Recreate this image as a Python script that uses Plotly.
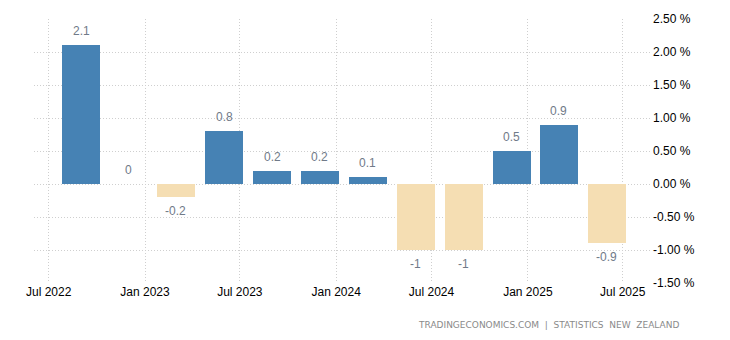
import plotly.graph_objects as go
import pandas as pd

dates = ["2022-09-01", "2022-12-01", "2023-03-01", "2023-06-01", "2023-09-01", "2023-12-01",
         "2024-03-01", "2024-06-01", "2024-09-01", "2024-12-01", "2025-03-01", "2025-06-01"]
values = [2.1, 0, -0.2, 0.8, 0.2, 0.2, 0.1, -1, -1, 0.5, 0.9, -0.9]
labels = ["2.1", "0", "-0.2", "0.8", "0.2", "0.2", "0.1", "-1", "-1", "0.5", "0.9", "-0.9"]
yticks = [2.5, 2.0, 1.5, 1.0, 0.5, 0.0, -0.5, -1.0, -1.5]
ytick_text = ["2.50 %", "2.00 %", "1.50 %", "1.00 %", "0.50 %", "0.00 %", "-0.50 %", "-1.00 %", "-1.50 %"]
xticks = ["2022-07-01", "2023-01-01", "2023-07-01", "2024-01-01", "2024-07-01", "2025-01-01", "2025-07-01"]

colors = ["#4682B4" if v >= 0 else "#F5DEB3" for v in values]

base = pd.Timestamp("2022-07-01")
x0 = base - pd.Timedelta(days=28)
x1 = base + pd.Timedelta(days=1152)

fig = go.Figure()
fig.add_trace(go.Bar(
    x=dates, y=values, marker=dict(color=colors, line=dict(width=0)),
    width=72.6 * 86400000,
    hoverinfo="skip",
))

annotations = []
for d, v, t in zip(dates, values, labels):
    pos = v >= 0
    annotations.append(dict(
        x=d, y=v, xref="x", yref="y", text=t, showarrow=False,
        yanchor="bottom" if pos else "top", yshift=5 if pos else -5,
        font=dict(color="#707a88", size=12, family="Liberation Sans, Arial, sans-serif")))

annotations.append(dict(
    text="TRADINGECONOMICS.COM  |  STATISTICS  NEW  ZEALAND",
    xref="paper", yref="paper", x=(681 - 34) / 618, y=(283 - 325) / 264,
    xanchor="right", yanchor="middle", showarrow=False,
    font=dict(size=9, color="#8a8a8a", family="DejaVu Sans, sans-serif")))

grid = dict(showgrid=True, gridcolor="#cfcfcf", griddash="1px,2px", gridwidth=1)
fig.update_layout(
    width=730, height=340,
    margin=dict(l=34, r=78, t=19, b=57),
    paper_bgcolor="white", plot_bgcolor="white",
    showlegend=False, bargap=0,
    font=dict(family="Liberation Sans, Arial, sans-serif", size=12, color="#000"),
    xaxis=dict(type="date", range=[x0, x1], tickvals=xticks, tickformat="%b %Y",
               ticks="", zeroline=False, showline=False, **grid,
               tickfont=dict(size=12, color="#000")),
    yaxis=dict(side="right", range=[-1.5, 2.5], tickvals=yticks, ticktext=ytick_text,
               ticks="", zeroline=False, showline=False, **grid,
               tickfont=dict(size=12, color="#000")),
    annotations=annotations,
)

fig.write_html("out.html")
